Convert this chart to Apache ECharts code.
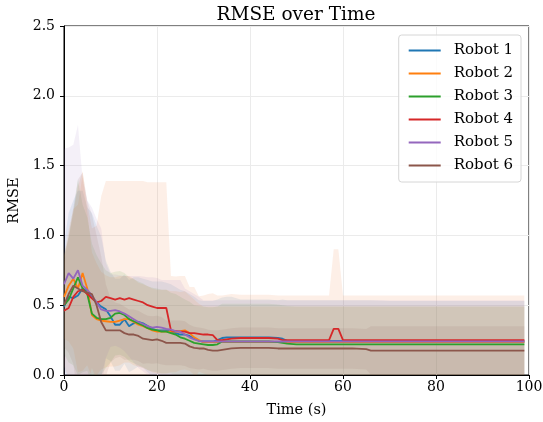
<!DOCTYPE html>
<html>
<head>
<meta charset="utf-8">
<script src="https://cdn.jsdelivr.net/npm/echarts@6/dist/echarts.min.js"></script>
<style>
  html, body { margin: 0; padding: 0; background: #fff; }
  #main { width: 543px; height: 422px; }
</style>
</head>
<body>
<div id="main"></div>
<script>
// time samples (s)
const time = [0,1,2,3,4,5,6,7,8,9,10,11,12,13,14,15,16,17,18,19,20,21,22,23,24,25,26,27,28,29,30,31,32,33,34,35,36,
  38,40,42,44,46,47,48,50,55,57,58,59,60,62,65,66,70,80,90,99];

const robotNames = ['Robot 1', 'Robot 2', 'Robot 3', 'Robot 4', 'Robot 5', 'Robot 6'];
const robotColors = ['#1f77b4', '#ff7f0e', '#2ca02c', '#d62728', '#9467bd', '#8c564b'];
// band tints (robot 4's band reads peach in the picture)
const bandColors = ['#1f77b4', '#ff7f0e', '#2ca02c', '#ee7a3c', '#9467bd', '#8c564b'];

// mean RMSE per robot
const mean1 = [.49,.56,.55,.57,.62,.60,.56,.52,.49,.47, .42,.36,.36,.40,.35,.37,.38,.37,.35,.33,
  .32,.32,.32,.31,.30,.29,.29,.28,.26,.245, .24,.24,.24,.25,.265,.27,.27,
  .27,.27,.27,.27,.265,.26,.245,.245,.245,.245,.245,.245,.245,.245,.245,.245,.24,.24,.24,.24];
const mean2 = [.56,.64,.69,.62,.73,.62,.43,.40,.39,.385, .38,.38,.39,.40,.40,.38,.36,.35,.335,.32,
  .31,.31,.31,.31,.31,.315,.32,.30,.27,.25, .235,.235,.235,.235,.235,.235,.235,
  .235,.235,.235,.235,.235,.235,.235,.235,.235,.235,.235,.235,.235,.235,.235,.235,.235,.235,.235,.235];
const mean3 = [.50,.54,.62,.70,.62,.58,.44,.41,.40,.40, .41,.44,.445,.43,.40,.385,.37,.355,.335,.325,
  .32,.31,.31,.30,.29,.27,.26,.245,.23,.225, .22,.215,.215,.22,.24,.24,.24,
  .24,.24,.24,.24,.235,.23,.225,.22,.22,.22,.22,.22,.22,.22,.22,.22,.22,.22,.22,.22];
const mean4 = [.46,.48,.56,.60,.61,.58,.55,.52,.53,.56, .55,.54,.55,.54,.55,.54,.53,.52,.50,.49,
  .48,.48,.48,.32,.315,.31,.31,.30,.30,.295, .29,.29,.285,.25,.25,.255,.26,
  .265,.265,.265,.265,.26,.25,.25,.25,.25,.25,.33,.33,.25,.25,.25,.25,.25,.25,.25,.25];
const mean5 = [.65,.73,.69,.75,.64,.61,.57,.52,.47,.46, .46,.465,.455,.44,.42,.40,.38,.365,.35,.34,
  .345,.34,.33,.325,.315,.31,.29,.27,.255,.245, .24,.24,.24,.24,.24,.24,.24,
  .24,.24,.24,.24,.24,.24,.24,.24,.24,.24,.24,.24,.24,.24,.24,.24,.24,.24,.24,.24];
const mean6 = [.50,.58,.64,.62,.60,.59,.58,.50,.38,.32, .32,.32,.32,.30,.29,.29,.28,.26,.255,.25,
  .255,.245,.23,.23,.23,.23,.225,.205,.195,.19, .19,.18,.175,.175,.18,.185,.19,
  .195,.195,.195,.195,.19,.19,.19,.19,.19,.19,.19,.19,.19,.19,.185,.175,.175,.175,.175,.175];

// standard deviation per robot (shaded band = mean +/- std)
const std1 = [.45,.6,.7,.75,.7,.6,.6,.55,.5,.35, .32,.33,.33,.32,.33,.33,.32,.32,.33,.34,
  .35,.35,.34,.34,.33,.32,.31,.3,.3,.29, .29,.29,.29,.29,.29,.29,.29,
  .27,.27,.27,.27,.27,.28,.29,.29,.29,.29,.29,.29,.29,.29,.29,.29,.29,.29,.29,.29];
const std2 = [.3,.4,.5,.6,.7,.55,.45,.4,.35,.33, .32,.32,.32,.31,.31,.31,.3,.3,.3,.3,
  .3,.3,.3,.29,.29,.28,.28,.27,.27,.26, .255,.255,.255,.255,.255,.255,.255,
  .255,.255,.255,.255,.255,.255,.255,.255,.255,.255,.255,.255,.255,.255,.255,.255,.255,.255,.255,.255];
const std3 = [.35,.45,.55,.7,.6,.55,.5,.45,.4,.35, .32,.3,.3,.3,.3,.3,.3,.3,.3,.3,
  .3,.3,.3,.29,.29,.29,.28,.28,.27,.27, .27,.27,.27,.27,.27,.27,.27,
  .27,.27,.27,.27,.27,.27,.27,.27,.27,.27,.27,.27,.27,.27,.27,.27,.27,.27,.27,.27];
const std4 = [.4,.5,.6,.75,.85,.65,.5,.55,.75,.83, .84,.85,.84,.85,.84,.85,.86,.87,.88,.89,
  .9,.9,.9,.39,.39,.40,.40,.33,.33,.27, .28,.29,.3,.32,.32,.32,.32,
  .31,.31,.31,.31,.31,.32,.32,.32,.32,.32,.57,.57,.32,.32,.32,.32,.32,.32,.32,.32];
const std5 = [.97,.90,.96,1.04,.76,.64,.63,.60,.58,.34, .26,.255,.26,.27,.29,.31,.33,.34,.35,.36,
  .35,.34,.35,.355,.365,.37,.33,.33,.325,.315, .295,.295,.295,.295,.295,.295,.295,
  .295,.295,.295,.295,.295,.295,.295,.295,.295,.295,.295,.295,.295,.295,.295,.295,.295,.295,.295,.295];
const std6 = [.3,.42,.56,.78,.85,.66,.57,.5,.47,.33, .23,.2,.19,.19,.18,.18,.18,.18,.17,.17,
  .17,.17,.16,.16,.16,.16,.16,.155,.15,.15, .145,.145,.145,.145,.145,.145,.145,
  .145,.145,.145,.145,.145,.145,.145,.145,.145,.145,.145,.145,.145,.145,.145,.175,.175,.175,.175,.175];

const xTicks = [0, 20, 40, 60, 80, 100];
const yTicks = [0, 0.5, 1.0, 1.5, 2.0, 2.5];

const means = [mean1, mean2, mean3, mean4, mean5, mean6];
const stds = [std1, std2, std3, std4, std5, std6];

const font = 'DejaVu Serif';
const chart = echarts.init(document.getElementById('main'));

const series = [];
// shaded bands (mean +/- std), one polygon per robot
means.forEach((m, i) => {
  const rows = time.map((t, j) => [t, m[j] - stds[i][j], m[j] + stds[i][j]]);
  series.push({
    type: 'custom', name: 'band' + i, silent: true, z: 1,
    data: rows,
    encode: { x: 0, y: [1, 2] },
    renderItem: (params, api) => {
      if (params.dataIndex !== 0) return;
      const top = rows.map(r => api.coord([r[0], r[2]]));
      const bottom = rows.map(r => api.coord([r[0], r[1]])).reverse();
      const cs = params.coordSys;
      return {
        type: 'polygon',
        shape: { points: top.concat(bottom) },
        style: { fill: bandColors[i], opacity: i === 3 ? 0.12 : 0.1 },
        clipPath: { type: 'rect', shape: { x: cs.x, y: cs.y, width: cs.width, height: cs.height } }
      };
    }
  });
});
// mean lines on top
means.forEach((m, i) => {
  series.push({
    type: 'line', name: robotNames[i], symbol: 'none', z: 5,
    color: robotColors[i],
    lineStyle: { width: 1.8, color: robotColors[i] },
    data: time.map((t, j) => [t, m[j]])
  });
});

const option = {
  animation: false,
  backgroundColor: '#fff',
  title: {
    text: 'RMSE over Time',
    left: 291, top: 1, textAlign: 'center',
    textStyle: { fontFamily: font, fontSize: 18.5, fontWeight: 'normal', color: '#000' }
  },
  grid: {
    left: 64, right: 14, top: 26, bottom: 47,
    outerBoundsMode: 'none',
    show: true, borderColor: '#000', borderWidth: 1, backgroundColor: 'transparent'
  },
  legend: {
    data: robotNames,
    orient: 'vertical',
    right: 22, top: 35,
    itemWidth: 32, itemHeight: 2, itemGap: 8,
    icon: 'rect',
    padding: [8, 8, 9, 10],
    borderColor: '#d6d6d6', borderWidth: 1, borderRadius: 3,
    backgroundColor: 'rgba(255,255,255,0.8)',
    textStyle: { fontFamily: font, fontSize: 15, color: '#000', padding: [0, 0, 0, 8] }
  },
  xAxis: {
    type: 'value', min: xTicks[0], max: xTicks[xTicks.length - 1], interval: 20,
    name: 'Time (s)', nameLocation: 'middle', nameGap: 28,
    nameTextStyle: { fontFamily: font, fontSize: 14.5, color: '#000' },
    axisLine: { show: true, lineStyle: { color: '#000', width: 1 } },
    axisTick: { show: true, length: 4, lineStyle: { color: '#000' } },
    axisLabel: { fontFamily: font, fontSize: 14, color: '#000', margin: 5 },
    splitLine: { show: true, lineStyle: { color: '#ebebeb', width: 1 } }
  },
  yAxis: {
    type: 'value', min: yTicks[0], max: yTicks[yTicks.length - 1], interval: 0.5,
    name: 'RMSE', nameLocation: 'middle', nameGap: 38,
    nameTextStyle: { fontFamily: font, fontSize: 14.5, color: '#000' },
    axisLine: { show: true, lineStyle: { color: '#000', width: 1 } },
    axisTick: { show: true, length: 4, lineStyle: { color: '#000' } },
    axisLabel: { fontFamily: font, fontSize: 14, color: '#000', margin: 9,
      formatter: v => v.toFixed(1) },
    splitLine: { show: true, lineStyle: { color: '#ebebeb', width: 1 } }
  },
  series: series
};

chart.setOption(option);
</script>
</body>
</html>
